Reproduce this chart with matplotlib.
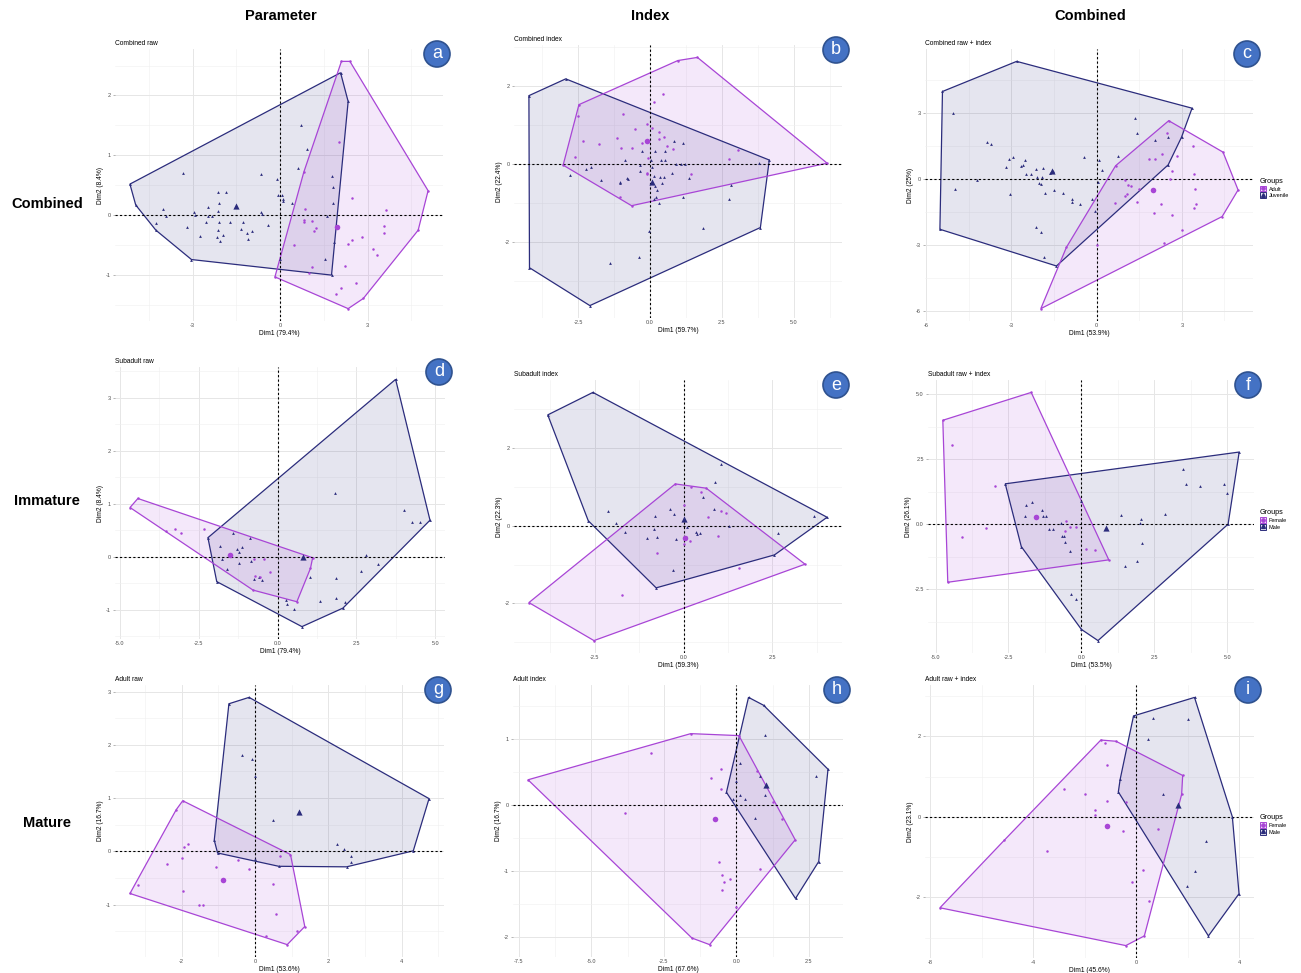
import numpy as np
import matplotlib.pyplot as plt
from matplotlib.lines import Line2D
from matplotlib.patches import Patch, Ellipse
from matplotlib.ticker import MultipleLocator, FormatStrFormatter

plt.rcParams['font.family'] = ['Liberation Sans', 'DejaVu Sans']
plt.rcParams['axes.unicode_minus'] = False

W, H = 1301, 973

# Group colours (first group = purple circles, second = navy triangles)
PURPLE = '#A845D6'
NAVY = '#2B2C7C'

# ---------------- Combined raw (Adult / Juvenile)
a_adult = [(2.10, 2.57), (2.39, 2.57), (5.07, 0.41), (4.73, -0.25), (2.85, -1.39), (2.33, -1.56), (-0.18, -1.03),
           (2.02, 1.23), (0.81, 0.72), (0.85, 0.11), (0.81, -0.08), (0.82, -0.12), (1.09, -0.09), (1.22, -0.21),
           (1.17, -0.26), (0.47, -0.49), (0.98, -0.97), (1.09, -0.86), (2.47, 0.28), (2.79, -0.37), (2.47, -0.41),
           (2.33, -0.48), (3.62, 0.08), (3.55, -0.18), (3.55, -0.30), (3.17, -0.56), (3.33, -0.67), (2.23, -0.84),
           (2.59, -1.13), (2.07, -1.21), (1.90, -1.31)]
a_juvenile = [(-5.15, 0.52), (-4.95, 0.17), (-4.26, -0.25), (-3.04, -0.74), (1.76, -1.0), (2.33, 1.90), (2.07, 2.38),
              (-3.33, 0.70), (-4.03, 0.11), (-3.93, -0.01), (-4.26, -0.13), (-3.21, -0.19), (-2.95, 0.05),
              (-2.93, 0.01), (-2.75, -0.34), (-2.55, -0.12), (-2.47, 0.13), (-2.49, -0.01), (-2.34, -0.01),
              (-2.13, 0.38), (-2.09, 0.20), (-2.13, 0.07), (-2.09, -0.12), (-2.13, -0.25), (-2.16, -0.36),
              (-2.07, -0.43), (-1.95, -0.33), (-1.84, 0.38), (-1.73, -0.12), (-1.27, -0.12), (-1.33, -0.23),
              (-1.15, -0.29), (-1.10, -0.40), (-0.95, -0.26), (-0.67, 0.69), (-0.67, 0.06), (-0.62, 0.02),
              (-0.43, -0.16), (-0.10, 0.61), (-0.07, 0.33), (0.05, 0.34), (0.08, 0.27), (0.10, 0.23), (0.70, 1.50),
              (0.93, 1.11), (0.62, 0.79), (1.78, 0.66), (1.82, 0.47), (1.82, 0.20), (1.59, -0.01), (1.85, -0.45),
              (1.55, -0.73), (-0.01, -0.73), (0.42, 0.20)]
a_means = [(1.95, -0.20), (-1.50, 0.16)]

# ---------------- Combined index
b_adult = [(-3.02, -0.02), (-2.47, 1.53), (0.97, 2.66), (1.65, 2.74), (6.16, 0.03), (-0.64, -1.06),
           (0.47, 1.81), (0.14, 1.61), (-0.93, 1.29), (-2.52, 1.23), (-0.52, 0.91), (-1.14, 0.67), (-2.33, 0.60),
           (-1.77, 0.51), (-1.02, 0.41), (-0.64, 0.41), (-0.29, 0.54), (-0.09, 1.04), (0.06, 0.93), (0.33, 0.84),
           (0.50, 0.71), (0.60, 0.48), (0.81, 0.39), (-0.06, 0.17), (-2.59, 0.18), (-1.05, -0.84), (-0.09, -0.21),
           (-0.12, -0.25), (1.43, -0.25), (2.76, 0.14), (3.05, 0.37), (0.33, 0.64)]
b_juvenile = [(-4.21, 1.76), (-2.93, 2.19), (4.15, 0.11), (3.84, -1.62), (-2.09, -3.62), (-4.19, -2.65),
              (-2.79, -0.27), (-2.21, -0.13), (-2.06, -0.06), (-1.71, -0.40), (-1.05, -0.45), (-1.05, -0.49),
              (-0.87, 0.11), (-0.81, -0.36), (-0.76, -0.38), (-1.40, -2.53), (-0.38, -2.37), (-0.03, -1.71),
              (-0.35, -0.02), (-0.26, 0.34), (-0.35, -0.16), (0.17, 0.35), (0.02, 0.11), (0.06, -0.06),
              (0.14, -0.29), (0.17, -0.56), (0.23, -0.66), (0.21, -0.85), (0.14, -0.89), (0.35, -0.32),
              (0.49, -0.32), (0.43, -0.49), (0.33, -0.99), (0.38, 0.11), (0.52, 0.11), (0.52, 0.33), (0.84, 0.60),
              (0.76, -0.21), (0.90, 0.01), (1.08, 0.01), (1.22, 0.01), (1.14, 0.54), (1.37, -0.36), (1.16, -0.83),
              (2.83, -0.53), (2.74, -0.88), (1.86, -1.63), (3.78, 0.03)]
b_means = [(-0.09, 0.60), (0.06, -0.45)]

# ---------------- Combined raw + index
c_adult = [(2.54, 2.66), (4.45, 1.23), (4.98, -0.49), (4.42, -1.70), (-1.96, -5.89), (-1.06, -3.10), (0.67, 0.61),
           (2.49, 2.12), (1.85, 0.91), (2.05, 0.91), (2.29, 1.15), (2.84, 1.06), (3.40, 1.52), (2.64, 0.39),
           (2.58, 0.0), (3.42, 0.23), (3.46, -0.46), (3.49, -1.12), (3.43, -1.29), (2.67, -1.62), (2.99, -2.31),
           (2.37, -2.91), (2.02, -1.55), (2.26, -1.11), (1.41, -1.02), (1.50, -0.46), (1.11, -0.26), (1.21, -0.33),
           (1.00, -0.06), (1.08, -0.67), (1.00, -0.76), (0.64, -1.09), (0.02, -2.99)]
c_juvenile = [(-5.42, 3.99), (-2.81, 5.36), (3.36, 3.23), (2.99, 1.91), (2.52, 0.65), (-1.41, -3.95), (-5.51, -2.28),
              (-5.06, 3.03), (-4.98, -0.46), (-3.87, 1.71), (-3.72, 1.61), (-4.22, -0.03), (-3.17, 0.55),
              (-3.07, 0.91), (-2.93, 1.03), (-3.05, -0.67), (-2.64, 0.58), (-2.58, 0.65), (-2.52, 0.88),
              (-2.49, 0.23), (-2.29, 0.23), (-2.14, 0.47), (-2.11, 0.08), (-2.02, -0.18), (-1.96, -0.21),
              (-1.91, 0.09), (-1.88, 0.50), (-1.80, -0.61), (-1.64, 0.27), (-1.52, 0.35), (-1.50, -0.49),
              (-1.17, -0.61), (-0.88, -0.91), (-0.86, -1.06), (-0.59, -1.12), (-0.45, 1.00), (-0.15, -0.88),
              (0.06, -0.11), (0.08, 0.85), (0.18, 0.42), (-0.06, -1.47), (-2.13, -2.19), (-1.96, -2.41),
              (-1.84, -3.52), (0.74, 1.06), (1.35, 2.78), (1.41, 2.09), (2.05, 1.76), (2.52, 1.91)]
c_means = [(1.97, -0.49), (-1.56, 0.39)]

# ---------------- Subadult raw (Female / Male)
d_female = [(-4.68, 0.93), (-4.43, 1.10), (1.11, -0.02), (1.04, -0.22), (0.61, -0.85), (-0.78, -0.63),
            (-3.55, 0.49), (-3.25, 0.52), (-3.07, 0.44), (-2.32, 0.52), (-0.74, -0.04), (-0.44, -0.05),
            (-0.73, -0.36), (-0.57, -0.39), (-0.25, -0.28)]
d_male = [(-2.21, 0.36), (3.74, 3.35), (4.83, 0.69), (2.07, -0.97), (0.77, -1.32), (-1.93, -0.47),
          (-1.43, 0.45), (-1.84, 0.20), (-1.77, -0.04), (-1.61, -0.23), (-1.29, 0.14), (-1.24, 0.09), (-1.13, 0.18),
          (-1.21, -0.11), (-0.87, 0.35), (-0.85, -0.08), (-0.76, -0.42), (-0.60, -0.38), (-0.50, -0.43),
          (1.02, -0.38), (0.28, -0.82), (0.30, -0.89), (0.51, -0.99), (1.35, -0.83), (1.85, -0.77), (1.85, -0.40),
          (1.83, 1.21), (2.65, -0.27), (2.81, 0.04), (3.17, -0.13), (4.02, 0.88), (4.26, 0.65), (4.51, 0.66),
          (2.12, -0.86)]
d_means = [(-1.50, 0.04), (0.79, 0.0)]

# ---------------- Subadult index
e_female = [(-0.23, 1.08), (0.64, 0.97), (3.42, -0.99), (-2.52, -2.96), (-4.35, -1.98),
            (0.20, 1.0), (0.01, 0.54), (0.50, 0.87), (0.70, 0.22), (1.06, 0.37), (1.20, 0.34), (0.97, -0.26),
            (0.06, -0.30), (0.19, -0.40), (0.0, -0.46), (-0.74, -0.69), (1.55, -1.08), (-1.74, -1.79)]
e_male = [(-3.82, 2.86), (-2.55, 3.44), (4.04, 0.22), (2.56, -0.75), (-0.77, -1.60), (-2.68, 0.13),
          (-2.13, 0.37), (-1.91, 0.07), (-1.64, -0.15), (-0.79, 0.26), (-0.82, -0.09), (-0.74, -0.28),
          (-1.02, -0.32), (-0.39, 0.44), (-0.28, 0.31), (-0.21, -0.34), (0.09, -0.04), (0.34, -0.15),
          (0.38, -0.21), (0.47, -0.19), (0.54, 0.73), (0.89, 1.13), (0.85, 0.43), (1.06, 1.60), (1.27, 0.0),
          (-0.30, -1.15), (2.65, -0.19), (3.66, 0.24)]
e_means = [(0.05, -0.32), (0.0, 0.17)]

# ---------------- Subadult raw + index
f_female = [(-4.75, 3.99), (-1.72, 5.06), (0.94, -1.37), (-4.58, -2.23),
            (-4.43, 3.05), (-2.97, 1.47), (-4.08, -0.50), (-3.26, -0.15), (-0.54, 0.13), (-0.57, -0.28),
            (-0.17, -0.09), (0.15, -0.96), (0.46, -0.99), (-0.38, -0.09)]
f_male = [(-2.61, 1.55), (5.41, 2.77), (5.03, 0.0), (0.57, -4.47), (0.0, -4.04), (-2.06, -0.86),
          (-1.89, 0.72), (-1.68, 0.85), (-1.92, 0.33), (-1.35, 0.55), (-1.32, 0.32), (-1.20, 0.32),
          (-1.11, -0.19), (-0.97, -0.19), (-0.71, 0.04), (-0.65, -0.44), (-0.57, -0.67), (-0.40, -1.03),
          (-0.59, -0.47), (-0.34, -2.69), (-0.17, -2.86), (0.0, 0.90), (1.36, 0.35), (2.00, 0.04), (2.03, 0.21),
          (2.08, -0.73), (2.88, 0.40), (1.49, -1.59), (1.91, -1.41), (3.47, 2.13), (3.58, 1.54), (4.06, 1.47),
          (4.90, 1.55), (5.00, 1.19)]
f_means = [(-1.54, 0.29), (0.86, -0.15)]

# ---------------- Adult raw
g_female = [(-1.97, 0.95), (-2.15, 0.78), (-3.41, -0.79), (0.88, -1.75), (1.36, -1.41), (0.97, -0.06),
            (-1.82, 0.14), (-1.93, 0.09), (-2.0, -0.13), (-2.41, -0.23), (-3.18, -0.64), (-1.95, -0.75),
            (-1.53, -1.0), (-1.41, -1.01), (-1.05, -0.30), (-0.45, -0.16), (-0.17, -0.33), (0.48, -0.61),
            (0.68, -0.09), (0.57, -1.18), (0.29, -1.58), (1.16, -1.50)]
g_male = [(-0.71, 2.77), (-0.16, 2.89), (4.75, 0.99), (4.32, 0.01), (2.50, -0.29), (0.65, -0.28), (-1.02, -0.03),
          (-1.11, 0.21), (-0.36, 1.81), (-0.07, 1.73), (0.0, 1.41), (0.48, 0.59), (2.25, 0.14), (2.44, 0.05),
          (2.61, -0.09), (2.61, -0.19), (0.0, -0.15)]
g_means = [(-0.86, -0.53), (1.20, 0.74)]

# ---------------- Adult index
h_female = [(-7.18, 0.38), (-1.57, 1.08), (0.09, 1.05), (2.03, -0.53), (-0.92, -2.12), (-1.53, -2.02),
            (-2.93, 0.78), (-3.82, -0.13), (-0.54, 0.55), (-0.86, 0.40), (-0.54, 0.24), (0.71, 0.52), (1.25, 0.05),
            (1.57, -0.22), (-0.61, -0.86), (-0.49, -1.06), (-0.43, -1.17), (-0.21, -1.12), (-0.49, -1.29),
            (0.80, -0.97), (0.0, -1.55)]
h_male = [(0.42, 1.63), (0.94, 1.51), (3.16, 0.54), (2.84, -0.86), (2.04, -1.42), (-0.34, 0.19),
          (0.98, 1.06), (0.14, 0.63), (0.0, 0.36), (0.11, 0.15), (0.29, 0.09), (-0.11, 0.09), (0.98, 0.15),
          (0.63, -0.20), (2.76, 0.43), (0.83, 0.44)]
h_means = [(-0.75, -0.22), (1.03, 0.30)]

# ---------------- Adult raw + index
i_female = [(-1.37, 1.91), (-0.78, 1.88), (1.81, 1.03), (1.77, 0.56), (0.32, -2.96), (-0.40, -3.20), (-7.62, -2.26),
            (-1.20, 1.84), (-1.14, 1.29), (-2.80, 0.69), (-1.98, 0.56), (-1.14, 0.39), (-1.58, 0.17),
            (-1.58, 0.04), (-0.49, -0.35), (-0.40, 0.37), (-3.47, -0.85), (-5.12, -0.58), (0.87, -0.29),
            (0.26, -1.33), (-0.14, -1.63), (0.52, -2.09)]
i_male = [(-0.10, 2.51), (2.27, 2.97), (3.74, 0.0), (4.0, -1.91), (2.81, -2.96), (-0.69, 0.62), (-0.62, 0.93),
          (0.67, 2.45), (2.03, 2.43), (0.48, 1.93), (1.04, 0.56), (2.71, -0.60), (2.27, -1.34), (1.99, -1.73)]
i_means = [(-1.14, -0.22), (1.62, 0.29)]

titles = ['Combined raw', 'Combined index', 'Combined raw + index',
          'Subadult raw', 'Subadult index', 'Subadult raw + index',
          'Adult raw', 'Adult index', 'Adult raw + index']
dim1 = ['79.4%', '59.7%', '53.9%', '79.4%', '59.3%', '53.5%', '53.6%', '67.6%', '45.6%']
dim2 = ['8.4%', '22.4%', '25%', '8.4%', '22.3%', '26.1%', '16.7%', '16.7%', '23.1%']
x_steps = [3, 2.5, 3, 2.5, 2.5, 2.5, 2, 2.5, 4]
y_steps = [1, 2, 3, 1, 2, 2.5, 1, 1, 2]
letters = list('abcdefghi')
age_groups = ['Adult', 'Juvenile']
sex_groups = ['Female', 'Male']
col_titles = ['Parameter', 'Index', 'Combined']
row_titles = ['Combined', 'Immature', 'Mature']

# panel boxes in pixels: left, top, right, bottom
boxes = [(115, 49, 443, 321), (514, 45, 842, 318), (925, 49, 1253, 321),
         (115, 367, 445, 639), (514, 380, 842, 653), (928, 380, 1254, 653),
         (115, 685, 444, 957), (513, 685, 843, 957), (925, 685, 1254, 958)]

panels = [(a_adult, a_juvenile, a_means), (b_adult, b_juvenile, b_means), (c_adult, c_juvenile, c_means),
          (d_female, d_male, d_means), (e_female, e_male, e_means), (f_female, f_male, f_means),
          (g_female, g_male, g_means), (h_female, h_male, h_means), (i_female, i_male, i_means)]


def convex_hull(pts):
    pts = sorted(set(pts))

    def cross(o, a, b):
        return (a[0] - o[0]) * (b[1] - o[1]) - (a[1] - o[1]) * (b[0] - o[0])

    lower, upper = [], []
    for p in pts:
        while len(lower) >= 2 and cross(lower[-2], lower[-1], p) <= 0:
            lower.pop()
        lower.append(p)
    for p in reversed(pts):
        while len(upper) >= 2 and cross(upper[-2], upper[-1], p) <= 0:
            upper.pop()
        upper.append(p)
    return np.array(lower[:-1] + upper[:-1])


fig = plt.figure(figsize=(W / 100, H / 100), dpi=100)

for k, (g1, g2, means) in enumerate(panels):
    l, t, r, b = boxes[k]
    ax = fig.add_axes([l / W, 1 - b / H, (r - l) / W, (b - t) / H])
    all_pts = np.array(g1 + g2)
    for pts, col, mk in [(g2, NAVY, '^'), (g1, PURPLE, 'o')]:
        hull = convex_hull(pts)
        ax.fill(hull[:, 0], hull[:, 1], facecolor=col, alpha=0.12, edgecolor='none', zorder=1)
        ax.fill(hull[:, 0], hull[:, 1], facecolor='none', edgecolor=col, lw=0.9, zorder=2)
        arr = np.array(pts)
        ax.scatter(arr[:, 0], arr[:, 1], s=3.2 if mk == 'o' else 4, marker=mk, color=col, lw=0, zorder=4)
    ax.scatter(*means[0], s=16, marker='o', color=PURPLE, lw=0, zorder=5)
    ax.scatter(*means[1], s=20, marker='^', color=NAVY, lw=0, zorder=5)

    xmin, xmax = all_pts[:, 0].min(), all_pts[:, 0].max()
    ymin, ymax = all_pts[:, 1].min(), all_pts[:, 1].max()
    dx, dy = 0.05 * (xmax - xmin), 0.05 * (ymax - ymin)
    ax.set_xlim(xmin - dx, xmax + dx)
    ax.set_ylim(ymin - dy, ymax + dy)

    ax.axhline(0, color='black', lw=0.8, ls=(0, (2, 2)), zorder=3)
    ax.axvline(0, color='black', lw=0.8, ls=(0, (2, 2)), zorder=3)

    ax.xaxis.set_major_locator(MultipleLocator(x_steps[k]))
    ax.xaxis.set_minor_locator(MultipleLocator(x_steps[k] / 2))
    ax.yaxis.set_major_locator(MultipleLocator(y_steps[k]))
    ax.yaxis.set_minor_locator(MultipleLocator(y_steps[k] / 2))
    ax.xaxis.set_major_formatter(FormatStrFormatter('%.1f' if x_steps[k] % 1 else '%d'))
    ax.yaxis.set_major_formatter(FormatStrFormatter('%.1f' if y_steps[k] % 1 else '%d'))
    ax.grid(which='major', color='#E6E6E6', lw=0.7, zorder=0)
    ax.grid(which='minor', color='#F0F0F0', lw=0.4, zorder=0)
    ax.set_axisbelow(True)
    for s in ax.spines.values():
        s.set_visible(False)
    ax.tick_params(which='both', length=0, labelsize=4, labelcolor='#4D4D4D', pad=1.5)
    ax.tick_params(axis='y', which='major', length=1.5, width=0.5, color='#999999')

    ax.set_xlabel(f'Dim1 ({dim1[k]})', fontsize=4.8, labelpad=1.5)
    ax.set_ylabel(f'Dim2 ({dim2[k]})', fontsize=4.8, labelpad=1.5)
    ax.set_title(titles[k], loc='left', fontsize=4.8, pad=3)

    if k % 3 == 2:
        names = age_groups if k < 3 else sex_groups
        handles = [(Patch(facecolor='#F3E6F9', edgecolor=PURPLE, lw=0.7),
                    Line2D([], [], marker='o', ls='', color=PURPLE, ms=2.4)),
                   (Patch(facecolor='#E4E4EF', edgecolor=NAVY, lw=0.7),
                    Line2D([], [], marker='^', ls='', color=NAVY, ms=2.8))]
        cy = (t + b) / 2 + 3
        leg = ax.legend(handles, names, title='Groups', loc='center left',
                        bbox_to_anchor=(1257 / W, 1 - cy / H), bbox_transform=fig.transFigure,
                        frameon=False, fontsize=4, title_fontsize=5.2, handlelength=1.2, handleheight=1.2,
                        handletextpad=0.4, labelspacing=0.15, borderpad=0)
        leg._legend_box.align = 'left'

    # panel letter badge
    bx = (r - 6) / W
    by = 1 - (t + 5) / H
    fig.patches.append(Ellipse((bx, by), 26 / W, 26 / H, transform=fig.transFigure,
                               facecolor='#4472C4', edgecolor='#2F528F', lw=1.2, zorder=10))
    fig.text(bx, by, letters[k], ha='center', va='center', color='white', fontsize=13, zorder=11)

for x, txt in zip([281, 650, 1090], col_titles):
    fig.text(x / W, 1 - 16 / H, txt, ha='center', va='center', fontsize=10.5, fontweight='bold')
for y, txt in zip([204, 501, 823], row_titles):
    fig.text(47 / W, 1 - y / H, txt, ha='center', va='center', fontsize=10.5, fontweight='bold')

fig.savefig('out.png', dpi=100)
